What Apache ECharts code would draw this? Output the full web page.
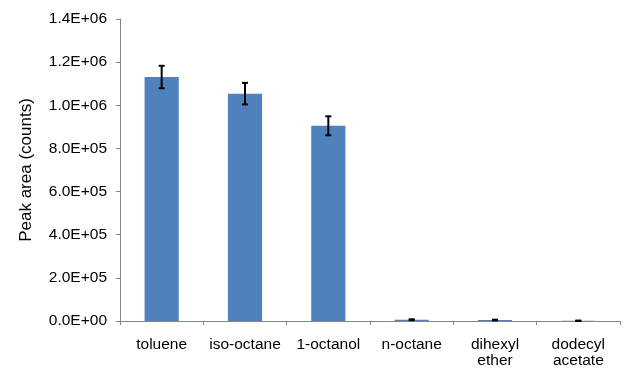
<!DOCTYPE html>
<html><head><meta charset="utf-8">
<script src="https://cdn.jsdelivr.net/npm/echarts@6/dist/echarts.min.js"></script>
<style>html,body{margin:0;padding:0;background:#fff}#c{width:624px;height:369px}</style>
</head><body><div id="c"></div>
<script>
const categories = ['toluene','iso-octane','1-octanol','n-octane','dihexyl\nether','dodecyl\nacetate'];
const values = [1131000, 1054000, 905000, 6000, 4500, 1000];
const errors = [52000, 50000, 44000, 2000, 1500, 1000];
const yTicks = ['0.0E+00','2.0E+05','4.0E+05','6.0E+05','8.0E+05','1.0E+06','1.2E+06','1.4E+06'];

const chart = echarts.init(document.getElementById('c'));
const font = 'Liberation Sans, Arial, sans-serif';
chart.setOption({
  animation: false,
  grid: {left: 120, right: 4, top: 19, bottom: 47},
  xAxis: {
    type: 'category', data: categories, boundaryGap: true,
    axisLine: {lineStyle: {color: '#868686', width: 1}},
    axisTick: {show: true, length: 4, alignWithLabel: false, lineStyle: {color: '#868686'}},
    axisLabel: {color: '#000', fontFamily: font, fontSize: 15.5, margin: 16, lineHeight: 16, interval: 0}
  },
  yAxis: {
    type: 'value', min: 0, max: 1400000, interval: 200000,
    name: 'Peak area (counts)', nameLocation: 'middle', nameGap: 85,
    nameTextStyle: {color: '#000', fontFamily: font, fontSize: 17},
    axisLine: {show: true, lineStyle: {color: '#868686', width: 1}},
    axisTick: {show: true, length: 4, lineStyle: {color: '#868686'}},
    splitLine: {show: false},
    axisLabel: {color: '#000', fontFamily: font, fontSize: 15.5, margin: 13,
      formatter: (v) => yTicks[Math.round(v / 200000)]}
  },
  series: [{
    type: 'bar', data: values, barWidth: '41%',
    itemStyle: {color: '#4f81bd'}
  }, {
    type: 'custom',
    data: values.map((v, i) => [i, v - errors[i], v + errors[i]]),
    renderItem: (params, api) => {
      const lo = api.coord([api.value(0), api.value(1)]);
      const hi = api.coord([api.value(0), api.value(2)]);
      const x = lo[0], hw = 3;
      const st = {stroke: '#000', lineWidth: 2};
      return {type: 'group', children: [
        {type: 'line', shape: {x1: x, y1: hi[1], x2: x, y2: lo[1]}, style: st},
        {type: 'line', shape: {x1: x - hw, y1: hi[1], x2: x + hw, y2: hi[1]}, style: st},
        {type: 'line', shape: {x1: x - hw, y1: lo[1], x2: x + hw, y2: lo[1]}, style: st}
      ]};
    },
    z: 10
  }]
});
</script></body></html>
